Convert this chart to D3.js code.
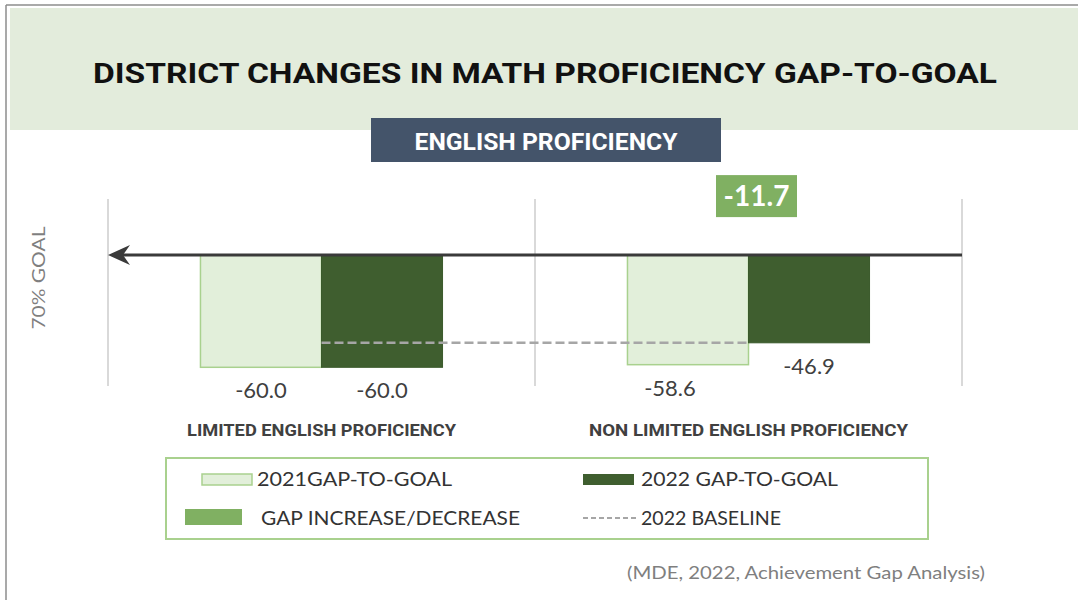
<!DOCTYPE html>
<html><head><meta charset="utf-8">
<script src="https://cdn.jsdelivr.net/npm/d3@7"></script>
<style>html,body{margin:0;padding:0;background:#fff;}svg{display:block;}</style>
</head><body>
<svg id="chart" width="1078" height="600"></svg>
<script>
// ---------- data ----------
const title = "DISTRICT CHANGES IN MATH PROFICIENCY GAP-TO-GOAL";
const subtitle = "ENGLISH PROFICIENCY";
const categories = ["LIMITED ENGLISH PROFICIENCY", "NON LIMITED ENGLISH PROFICIENCY"];
const seriesNames = ["2021GAP-TO-GOAL", "2022 GAP-TO-GOAL"];
const gap2021 = [-60.0, -58.6];
const gap2022 = [-60.0, -46.9];
const gapChange = [null, -11.7];
const baseline2022 = -46.9;
const yDomain = [30, -70];
const axisLabel = "70% GOAL";
const legendLabels = ["2021GAP-TO-GOAL", "2022 GAP-TO-GOAL", "GAP INCREASE/DECREASE", "2022 BASELINE"];
const sourceText = "(MDE, 2022, Achievement Gap Analysis)";

// ---------- styles ----------
const C = {
  band: "#e3ecdc", slate: "#44546a", light: "#e2efda", lightStroke: "#a9d18e",
  dark: "#3f5e2f", change: "#80b062", grid: "#d9d9d9", axis: "#3a3a3a",
  dash: "#a6a6a6", text: "#404040", gray: "#7f7f7f"
};
const headFont = "Roboto, 'Liberation Sans', sans-serif";
const bodyFont = "Lato, 'Open Sans', sans-serif";

const svg = d3.select("#chart");

// frame
svg.append("line").attr("x1", 6).attr("x2", 1078).attr("y1", 5).attr("y2", 5).attr("stroke", "#8c8c8c").attr("stroke-width", 1.5);
svg.append("line").attr("x1", 6).attr("x2", 6).attr("y1", 5).attr("y2", 600).attr("stroke", "#8c8c8c").attr("stroke-width", 1.5);

// header band
svg.append("rect").attr("x", 10).attr("y", 8).attr("width", 1068).attr("height", 122).attr("fill", C.band);
svg.append("text").attr("x", 545).attr("y", 83).attr("text-anchor", "middle")
  .attr("font-family", headFont).attr("font-weight", 700).attr("font-size", 28)
  .attr("textLength", 904).attr("lengthAdjust", "spacingAndGlyphs")
  .attr("fill", "#111").text(title);

// subtitle box
svg.append("rect").attr("x", 371).attr("y", 118).attr("width", 350).attr("height", 44).attr("fill", C.slate);
svg.append("text").attr("x", 546).attr("y", 150).attr("text-anchor", "middle")
  .attr("font-family", headFont).attr("font-weight", 700).attr("font-size", 24)
  .attr("textLength", 263).attr("lengthAdjust", "spacingAndGlyphs")
  .attr("fill", "#fff").text(subtitle);

// ---------- scales ----------
const x0 = d3.scaleBand().domain(categories).range([108, 962]).paddingInner(0).paddingOuter(0);
const x1 = d3.scaleBand().domain(seriesNames).range([0, x0.bandwidth()]).paddingInner(0).paddingOuter(0.764);
const y = d3.scaleLinear().domain(yDomain).range([199, 386]);

// gridlines at category boundaries
const bounds = categories.map(c => x0(c)).concat([x0(categories[categories.length - 1]) + x0.bandwidth()]);
svg.append("g").selectAll("line").data(bounds).join("line")
  .attr("x1", d => d).attr("x2", d => d).attr("y1", y(yDomain[0])).attr("y2", y(yDomain[1]))
  .attr("stroke", C.grid).attr("stroke-width", 2);

// bars
const barData = [];
categories.forEach((c, i) => {
  barData.push({cat: c, ci: i, s: seriesNames[0], si: 0, v: gap2021[i]});
  barData.push({cat: c, ci: i, s: seriesNames[1], si: 1, v: gap2022[i]});
});
svg.append("g").selectAll("rect").data(barData).join("rect")
  .attr("x", d => x0(d.cat) + x1(d.s))
  .attr("y", d => y(Math.max(0, d.v)))
  .attr("width", x1.bandwidth())
  .attr("height", d => Math.abs(y(d.v) - y(0)))
  .attr("fill", d => d.si === 0 ? C.light : C.dark)
  .attr("stroke", d => d.si === 0 ? C.lightStroke : "#3a5a2b")
  .attr("stroke-width", d => d.si === 0 ? 1.5 : 1);

// baseline dashed line
svg.append("line")
  .attr("x1", x0(categories[0]) + x1(seriesNames[1]))
  .attr("x2", x0(categories[1]) + x1(seriesNames[0]) + x1.bandwidth())
  .attr("y1", y(baseline2022)).attr("y2", y(baseline2022))
  .attr("stroke", C.dash).attr("stroke-width", 2.5).attr("stroke-dasharray", "9,4");

// zero axis with arrow
const y0 = y(0);
svg.append("line").attr("x1", x0.range()[1]).attr("x2", x0.range()[0] + 6).attr("y1", y0).attr("y2", y0)
  .attr("stroke", C.axis).attr("stroke-width", 3);
const ax = x0.range()[0];
svg.append("path").attr("d", `M${ax},${y0} L${ax + 22},${y0 - 10} L${ax + 15},${y0} L${ax + 22},${y0 + 10} Z`)
  .attr("fill", C.axis);

// value labels
const nudge = {"1-0": -18};
svg.append("g").selectAll("text").data(barData).join("text")
  .attr("x", d => x0(d.cat) + x1(d.s) + x1.bandwidth() / 2 + (nudge[d.ci + "-" + d.si] || 0))
  .attr("y", d => y(d.v) + 31)
  .attr("text-anchor", "middle").attr("font-family", bodyFont).attr("font-size", 22)
  .attr("fill", C.text).text(d => d.v.toFixed(1));

// change box
categories.forEach((c, i) => {
  if (gapChange[i] == null) return;
  const cx = x0(c) + x0.bandwidth() / 2 + 8;
  const g = svg.append("g");
  g.append("rect").attr("x", cx - 40.5).attr("y", y0 - 80).attr("width", 81).attr("height", 42).attr("fill", C.change);
  g.append("text").attr("x", cx).attr("y", y0 - 49).attr("text-anchor", "middle")
    .attr("font-family", bodyFont).attr("font-weight", 700).attr("font-size", 28)
    .attr("fill", "#fff").text(gapChange[i].toFixed(1));
});

// axis label
svg.append("text").attr("transform", `translate(45,${y0 + 23}) rotate(-90)`)
  .attr("text-anchor", "middle").attr("font-family", bodyFont).attr("font-size", 18)
  .attr("textLength", 103).attr("lengthAdjust", "spacingAndGlyphs")
  .attr("fill", C.gray).text(axisLabel);

// category labels
const catWidths = [269, 319];
svg.append("g").selectAll("text").data(categories).join("text")
  .attr("x", d => x0(d) + x0.bandwidth() / 2)
  .attr("y", 436).attr("text-anchor", "middle")
  .attr("font-family", headFont).attr("font-weight", 700).attr("font-size", 17)
  .attr("textLength", (d, i) => catWidths[i]).attr("lengthAdjust", "spacingAndGlyphs")
  .attr("fill", C.text).text(d => d);

// legend
const lg = svg.append("g");
lg.append("rect").attr("x", 166).attr("y", 458).attr("width", 762).attr("height", 81)
  .attr("fill", "none").attr("stroke", C.lightStroke).attr("stroke-width", 2);
lg.append("rect").attr("x", 202).attr("y", 474).attr("width", 50).attr("height", 11)
  .attr("fill", C.light).attr("stroke", C.lightStroke).attr("stroke-width", 1.5);
lg.append("rect").attr("x", 583).attr("y", 474).attr("width", 51).attr("height", 11).attr("fill", C.dark);
lg.append("rect").attr("x", 185).attr("y", 509).attr("width", 57).attr("height", 16).attr("fill", C.change);
lg.append("line").attr("x1", 583).attr("x2", 637).attr("y1", 518).attr("y2", 518)
  .attr("stroke", C.dash).attr("stroke-width", 2).attr("stroke-dasharray", "5,3");
const legPos = [[257, 486, 195], [641, 486, 197], [261, 525, 259], [641, 525, 140]];
lg.selectAll("text.lt").data(legendLabels).join("text").attr("class", "lt")
  .attr("x", (d, i) => legPos[i][0]).attr("y", (d, i) => legPos[i][1])
  .attr("textLength", (d, i) => legPos[i][2]).attr("lengthAdjust", "spacingAndGlyphs")
  .attr("font-family", bodyFont).attr("font-size", 19).attr("fill", "#333").text(d => d);

// source
svg.append("text").attr("x", 985).attr("y", 579).attr("text-anchor", "end")
  .attr("font-family", bodyFont).attr("font-size", 17)
  .attr("textLength", 358).attr("lengthAdjust", "spacingAndGlyphs")
  .attr("fill", C.gray).text(sourceText);
</script>
</body></html>
